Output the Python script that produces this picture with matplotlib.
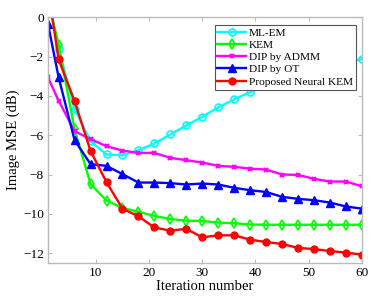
import matplotlib
matplotlib.use("Agg")
import matplotlib.pyplot as plt

plt.rcParams['font.family'] = ['Liberation Serif', 'DejaVu Serif']

iters = [1, 3, 6, 9, 12, 15, 18, 21, 24, 27, 30, 33, 36, 39, 42, 45, 48, 51, 54, 57, 60]

ml_em = [1.0, -1.6, -4.65, -6.3, -6.98, -7.02, -6.76, -6.42, -5.96, -5.5, -5.06, -4.58,
         -4.17, -3.8, -3.45, -3.15, -2.88, -2.65, -2.45, -2.28, -2.12]
kem = [0.93, -1.4, -5.7, -8.48, -9.33, -9.7, -9.9, -10.11, -10.27, -10.35, -10.37, -10.45,
       -10.48, -10.55, -10.56, -10.56, -10.56, -10.56, -10.56, -10.56, -10.56]
dip_admm = [-3.05, -4.24, -5.79, -6.2, -6.56, -6.78, -6.9, -6.9, -7.15, -7.27, -7.39, -7.56,
            -7.61, -7.7, -7.75, -8.0, -8.02, -8.22, -8.36, -8.36, -8.6]
dip_ot = [-0.33, -3.05, -6.25, -7.47, -7.56, -7.98, -8.41, -8.41, -8.44, -8.51, -8.46, -8.51,
          -8.68, -8.8, -8.89, -9.14, -9.24, -9.31, -9.43, -9.63, -9.74]
neural_kem = [1.45, -2.13, -4.26, -6.8, -8.39, -9.74, -10.13, -10.7, -10.86, -10.77, -11.2,
              -11.1, -11.1, -11.32, -11.44, -11.54, -11.74, -11.8, -11.9, -11.98, -12.08]

labels = ['ML-EM', 'KEM', 'DIP by ADMM', 'DIP by OT', 'Proposed Neural KEM']
xticks = [10, 20, 30, 40, 50, 60]
yticks = [0, -2, -4, -6, -8, -10, -12]

fig = plt.figure(figsize=(3.9, 2.99), dpi=100)
ax = fig.add_axes([0.123, 0.121, 0.805, 0.8205])

lw = 1.7
ax.plot(iters, ml_em, color='#00FFFF', marker='o', ms=5, mfc='none', mew=1.2, lw=lw, label=labels[0])
ax.plot(iters, kem, color='#00FF00', marker='d', ms=5.5, mfc='none', mew=1.2, lw=lw, label=labels[1])
ax.plot(iters, dip_admm, color='#FF00FF', marker='x', ms=3.5, mew=1.5, lw=lw, label=labels[2])
ax.plot(iters, dip_ot, color='#0000FF', marker='^', ms=6, lw=lw, label=labels[3])
ax.plot(iters, neural_kem, color='#FF0000', marker='o', ms=5, lw=lw, label=labels[4])

ax.set_xlim(1, 60)
ax.set_ylim(-12.5, 0)
ax.set_xticks(xticks)
ax.set_yticks(yticks)
ax.tick_params(direction='in', top=True, right=True, labelsize=9.5, length=3, color='#bbbbbb', pad=3)
for s in ax.spines.values():
    s.set_color('#bbbbbb')
    s.set_linewidth(1.0)
ax.set_xlabel('Iteration number', fontsize=10.5, labelpad=1)
ax.set_ylabel('Image MSE (dB)', fontsize=10.5, labelpad=2)

leg = ax.legend(loc='upper right', bbox_to_anchor=(0.98, 0.97), fontsize=8.2, frameon=True,
                fancybox=False, edgecolor='#555555', framealpha=1.0, borderpad=0.25,
                labelspacing=0.2, handlelength=2.5, handletextpad=0.25, borderaxespad=0)
leg.get_frame().set_linewidth(0.8)

fig.savefig('out.png', dpi=100)
